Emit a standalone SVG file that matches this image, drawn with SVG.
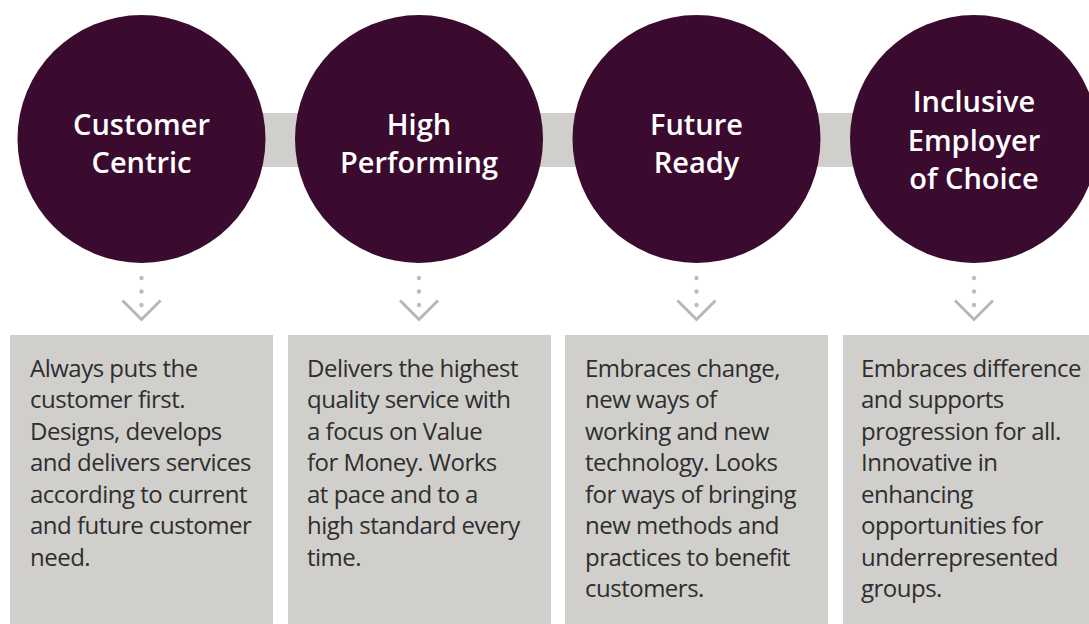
<svg xmlns="http://www.w3.org/2000/svg" width="1089" height="624" viewBox="0 0 1089 624">
<style>
.bg{fill:#ffffff}
.bar{fill:#d0cfcb}
.circ{fill:#3a0b2f}
.box{fill:#d1cfcc}
.title{font-family:"Open Sans","Noto Sans",sans-serif;font-size:29px;font-weight:600;fill:#ffffff;text-anchor:middle}
.body{font-family:"Open Sans","Noto Sans",sans-serif;font-size:24px;letter-spacing:-0.5px;fill:#2e2e2e}
.dot{fill:#bcbcbc}
.chev{fill:none;stroke:#b7b7b7;stroke-width:3;stroke-linecap:butt;stroke-linejoin:miter}
</style>
<rect class="bg" x="0" y="0" width="1089" height="624"/>
<g id="connectors">
  <rect class="bar" x="141" y="113" width="833" height="54"/>
  <g id="arrow1">
    <circle class="dot" cx="141.5" cy="278" r="2.2"/><circle class="dot" cx="141.5" cy="291.5" r="2.2"/><circle class="dot" cx="141.5" cy="305" r="2.2"/>
    <polyline class="chev" points="122.5,300.5 141.5,319.5 160.5,300.5"/>
  </g>
  <g id="arrow2">
    <circle class="dot" cx="419" cy="278" r="2.2"/><circle class="dot" cx="419" cy="291.5" r="2.2"/><circle class="dot" cx="419" cy="305" r="2.2"/>
    <polyline class="chev" points="400,300.5 419,319.5 438,300.5"/>
  </g>
  <g id="arrow3">
    <circle class="dot" cx="696.5" cy="278" r="2.2"/><circle class="dot" cx="696.5" cy="291.5" r="2.2"/><circle class="dot" cx="696.5" cy="305" r="2.2"/>
    <polyline class="chev" points="677.5,300.5 696.5,319.5 715.5,300.5"/>
  </g>
  <g id="arrow4">
    <circle class="dot" cx="974" cy="278" r="2.2"/><circle class="dot" cx="974" cy="291.5" r="2.2"/><circle class="dot" cx="974" cy="305" r="2.2"/>
    <polyline class="chev" points="955,300.5 974,319.5 993,300.5"/>
  </g>
</g>
<g id="node-customer-centric">
  <circle class="circ" cx="141.5" cy="139" r="124"/>
  <text class="title" x="141.5" y="135">Customer</text>
  <text class="title" x="141.5" y="173">Centric</text>
</g>
<g id="node-high-performing">
  <circle class="circ" cx="419" cy="139" r="124"/>
  <text class="title" x="419" y="135">High</text>
  <text class="title" x="419" y="173">Performing</text>
</g>
<g id="node-future-ready">
  <circle class="circ" cx="696.5" cy="139" r="124"/>
  <text class="title" x="696.5" y="135">Future</text>
  <text class="title" x="696.5" y="173">Ready</text>
</g>
<g id="node-inclusive-employer">
  <circle class="circ" cx="974" cy="139" r="124"/>
  <text class="title" x="974" y="112">Inclusive</text>
  <text class="title" x="974" y="151">Employer</text>
  <text class="title" x="974" y="189">of Choice</text>
</g>
<g id="desc-customer-centric">
  <rect class="box" x="10" y="335" width="263" height="289"/>
  <text class="body">
    <tspan x="30" y="376.7">Always puts the</tspan>
    <tspan x="30" y="408.2">customer first.</tspan>
    <tspan x="30" y="439.7">Designs, develops</tspan>
    <tspan x="30" y="471.2">and delivers services</tspan>
    <tspan x="30" y="502.7">according to current</tspan>
    <tspan x="30" y="534.2">and future customer</tspan>
    <tspan x="30" y="565.7">need.</tspan>
  </text>
</g>
<g id="desc-high-performing">
  <rect class="box" x="288" y="335" width="263" height="289"/>
  <text class="body">
    <tspan x="307" y="376.7">Delivers the highest</tspan>
    <tspan x="307" y="408.2">quality service with</tspan>
    <tspan x="307" y="439.7">a focus on Value</tspan>
    <tspan x="307" y="471.2">for Money. Works</tspan>
    <tspan x="307" y="502.7">at pace and to a</tspan>
    <tspan x="307" y="534.2">high standard every</tspan>
    <tspan x="307" y="565.7">time.</tspan>
  </text>
</g>
<g id="desc-future-ready">
  <rect class="box" x="565" y="335" width="263" height="289"/>
  <text class="body">
    <tspan x="585" y="376.7">Embraces change,</tspan>
    <tspan x="585" y="408.2">new ways of</tspan>
    <tspan x="585" y="439.7">working and new</tspan>
    <tspan x="585" y="471.2">technology. Looks</tspan>
    <tspan x="585" y="502.7">for ways of bringing</tspan>
    <tspan x="585" y="534.2">new methods and</tspan>
    <tspan x="585" y="565.7">practices to benefit</tspan>
    <tspan x="585" y="597.2">customers.</tspan>
  </text>
</g>
<g id="desc-inclusive-employer">
  <rect class="box" x="843" y="335" width="246" height="289"/>
  <text class="body">
    <tspan x="861" y="376.7">Embraces difference</tspan>
    <tspan x="861" y="408.2">and supports</tspan>
    <tspan x="861" y="439.7">progression for all.</tspan>
    <tspan x="861" y="471.2">Innovative in</tspan>
    <tspan x="861" y="502.7">enhancing</tspan>
    <tspan x="861" y="534.2">opportunities for</tspan>
    <tspan x="861" y="565.7">underrepresented</tspan>
    <tspan x="861" y="597.2">groups.</tspan>
  </text>
</g>
</svg>
